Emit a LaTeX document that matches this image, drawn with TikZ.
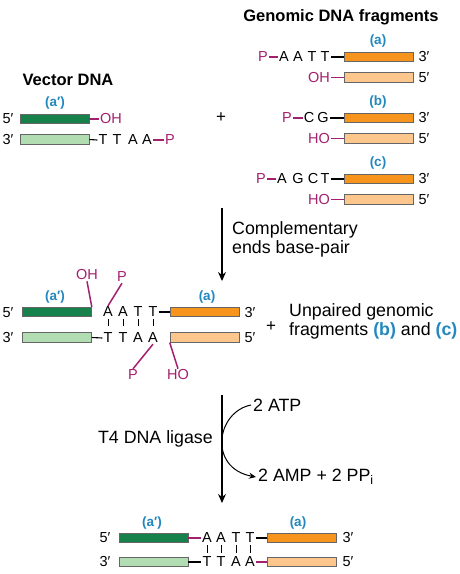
\documentclass[tikz,border=0pt]{standalone}
\usepackage{fontspec}
\setmainfont{Liberation Sans}
\usetikzlibrary{arrows.meta}

\begin{document}
\begin{tikzpicture}[x=1pt,y=-1pt,
  bar/.style={draw=black!60,line width=0.6pt,minimum width=69pt,minimum height=9.5pt,inner sep=0pt},
  base/.style={inner sep=1pt,font=\fontsize{14.5}{16}\selectfont},
  grp/.style={base,text=phos},
  tag/.style={text=labblue,inner sep=1pt,font=\bfseries\fontsize{13.5}{16}\selectfont},
  txt/.style={align=left,inner sep=0pt,font=\fontsize{17.8}{19}\selectfont},
  ph/.style={draw=phos,line width=1.5pt},
  bl/.style={draw=black,line width=1.1pt},
  arr/.style={draw=black,line width=1.1pt,-{Stealth[length=9pt,width=8pt]}}]
\definecolor{dkgreen}{HTML}{16814A}
\definecolor{ltgreen}{HTML}{B2DDB2}
\definecolor{orng}{HTML}{F7941E}
\definecolor{ltorng}{HTML}{FDC68C}
\definecolor{phos}{HTML}{A3206F}
\definecolor{labblue}{HTML}{2288BD}
\useasboundingbox (0,0) rectangle (459,574);

% vector DNA
\node[font=\bfseries\fontsize{16.5}{20}\selectfont] (vectitle) at (68,80) {Vector DNA};
\node[tag] (vtag) at (55,103) {(a′)};
\node[bar,fill=dkgreen] (vtop) at (54.5,119) {};
\node[bar,fill=ltgreen] (vbot) at (54.5,139.5) {};
\node[base] (vfive) at (8,119) {5′};
\node[base] (vthree) at (8,140) {3′};
\node[grp,anchor=west] (voh) at (99,119) {OH};
\draw[ph] (vtop.east) -- (voh.west);
\foreach \ltr/\xx [count=\i] in {T/103,T/117,A/133,A/147}
  {\node[base] (vb\i) at (\xx,140) {\ltr};}
\node[grp] (vp) at (170,140) {P};
\draw[bl] (vbot.east) -- (vb1.west);
\draw[ph] (vb4.east) -- (vp.west);
\node[font=\fontsize{17}{19}\selectfont] (plusone) at (221,118) {+};

% genomic fragments
\node[font=\bfseries\fontsize{16.5}{20}\selectfont] (gentitle) at (341,17) {Genomic DNA fragments};
\foreach \nm/\yy/\pp/\hh in {a/57/263/OH,b/118/287/HO,c/179/261/HO}
{ \node[tag] (\nm tag) at (378,\yy-16) {(\nm)};
  \node[bar,fill=orng] (\nm top) at (378.5,\yy) {};
  \node[bar,fill=ltorng] (\nm bot) at (378.5,\yy+20.5) {};
  \node[base] (\nm three) at (424,\yy) {3′};
  \node[base] (\nm five) at (424,\yy+20.5) {5′};
  \node[grp] (\nm p) at (\pp,\yy) {P};
  \node[grp,anchor=east] (\nm oh) at (331,\yy+20.5) {\hh};
  \draw[ph] (\nm oh.east) -- (\nm bot.west);}
\foreach \ltr/\xx [count=\i] in {A/284,A/298,T/312,T/325}
  {\node[base] (as\i) at (\xx,57) {\ltr};}
\foreach \ltr/\xx [count=\i] in {C/309,G/323}
  {\node[base] (bs\i) at (\xx,118) {\ltr};}
\foreach \ltr/\xx [count=\i] in {A/282,G/298,C/313,T/325}
  {\node[base] (cs\i) at (\xx,179) {\ltr};}
\draw[ph] (ap.east) -- (as1.west);
\draw[bl] (as4.east) -- (atop.west);
\draw[ph] (bp.east) -- (bs1.west);
\draw[bl] (bs2.east) -- (btop.west);
\draw[ph] (cp.east) -- (cs1.west);
\draw[bl] (cs4.east) -- (ctop.west);

% base pairing step
\coordinate (sone) at (222,208);
\coordinate (eone) at (222,281);
\draw[arr] (sone) -- (eone);
\node[txt,anchor=west] (pairtxt) at (232,239) {Complementary\\ends base-pair};

\node[tag] (mtag) at (55,297) {(a′)};
\node[bar,fill=dkgreen] (mvtop) at (57,312) {};
\node[bar,fill=ltgreen] (mvbot) at (57,337.5) {};
\node[base] (mfive) at (8,313) {5′};
\node[base] (mthree) at (8,338) {3′};
\foreach \up/\dn/\xx [count=\i] in {A/T/108,A/T/123,T/A/138,T/A/153}
{ \node[base] (mu\i) at (\xx,312) {\up};
  \node[base] (md\i) at (\xx,338) {\dn};
  \draw[line width=1pt] (mu\i.south) ++(0,1) -- ++(0,7);}
\node[tag] (matag) at (207,297) {(a)};
\node[bar,fill=orng] (matop) at (204.5,312) {};
\node[bar,fill=ltorng] (mabot) at (204.5,337.5) {};
\node[base] (mathree) at (250,313) {3′};
\node[base] (mafive) at (250,338) {5′};
\draw[bl] (mu4.east) -- (matop.west);
\draw[bl] (mvbot.east) -- (md1.west);
\node[grp] (moh) at (87,275) {OH};
\node[grp] (mp) at (122,277) {P};
\node[grp] (mbp) at (133,375) {P};
\node[grp] (mho) at (178,375) {HO};
\draw[ph] (moh.south) -- (mvtop.north east);
\draw[ph] (mp.south) -- (mu1.north);
\draw[ph] (mbp.north) -- (md4.south);
\draw[ph] (mho.north) -- (mabot.south west);
\node[font=\fontsize{17}{19}\selectfont] (plustwo) at (271,327) {+};
\node[txt,anchor=west] (unptxt) at (289,321.5)
  {Unpaired genomic\\fragments \textcolor{labblue}{\bfseries(b)} and \textcolor{labblue}{\bfseries(c)}};

% ligation step
\coordinate (stwo) at (222,395);
\coordinate (etwo) at (222,503);
\draw[arr] (stwo) -- (etwo);
\node[txt,anchor=east] (ligtxt) at (213,439) {T4 DNA ligase};
\node[txt,anchor=west] (atp) at (253,405) {2 ATP};
\node[txt,anchor=west] (amp) at (258,477) {2 AMP + 2 PP\textsubscript{i}};
\draw[line width=1pt,-{Stealth[length=7pt,width=6pt]}] ([xshift=-2pt]atp.west) .. controls (216,412) and (208,468) .. ([xshift=-2pt]amp.west);

% ligated product
\node[tag] (ftag) at (152,523) {(a′)};
\node[tag] (fatag) at (298,523) {(a)};
\node[bar,fill=dkgreen] (fvtop) at (153.5,538) {};
\node[bar,fill=ltgreen] (fvbot) at (153.5,562) {};
\node[bar,fill=orng] (fatop) at (301.5,538) {};
\node[bar,fill=ltorng] (fabot) at (301.5,562) {};
\node[base] (ffive) at (105,538) {5′};
\node[base] (fthree) at (105,562) {3′};
\node[base] (fathree) at (348,538) {3′};
\node[base] (fafive) at (348,562) {5′};
\foreach \up/\dn/\xx [count=\i] in {A/T/207,A/T/221,T/A/236,T/A/250}
{ \node[base] (fu\i) at (\xx,538) {\up};
  \node[base] (fd\i) at (\xx,562) {\dn};
  \draw[line width=1pt] (fu\i.south) ++(0,1) -- ++(0,8);}
\draw[ph] (fvtop.east) -- (fu1.west);
\draw[bl] (fu4.east) -- (fatop.west);
\draw[bl] (fvbot.east) -- (fd1.west);
\draw[ph] (fd4.east) -- (fabot.west);
\end{tikzpicture}
\end{document}
